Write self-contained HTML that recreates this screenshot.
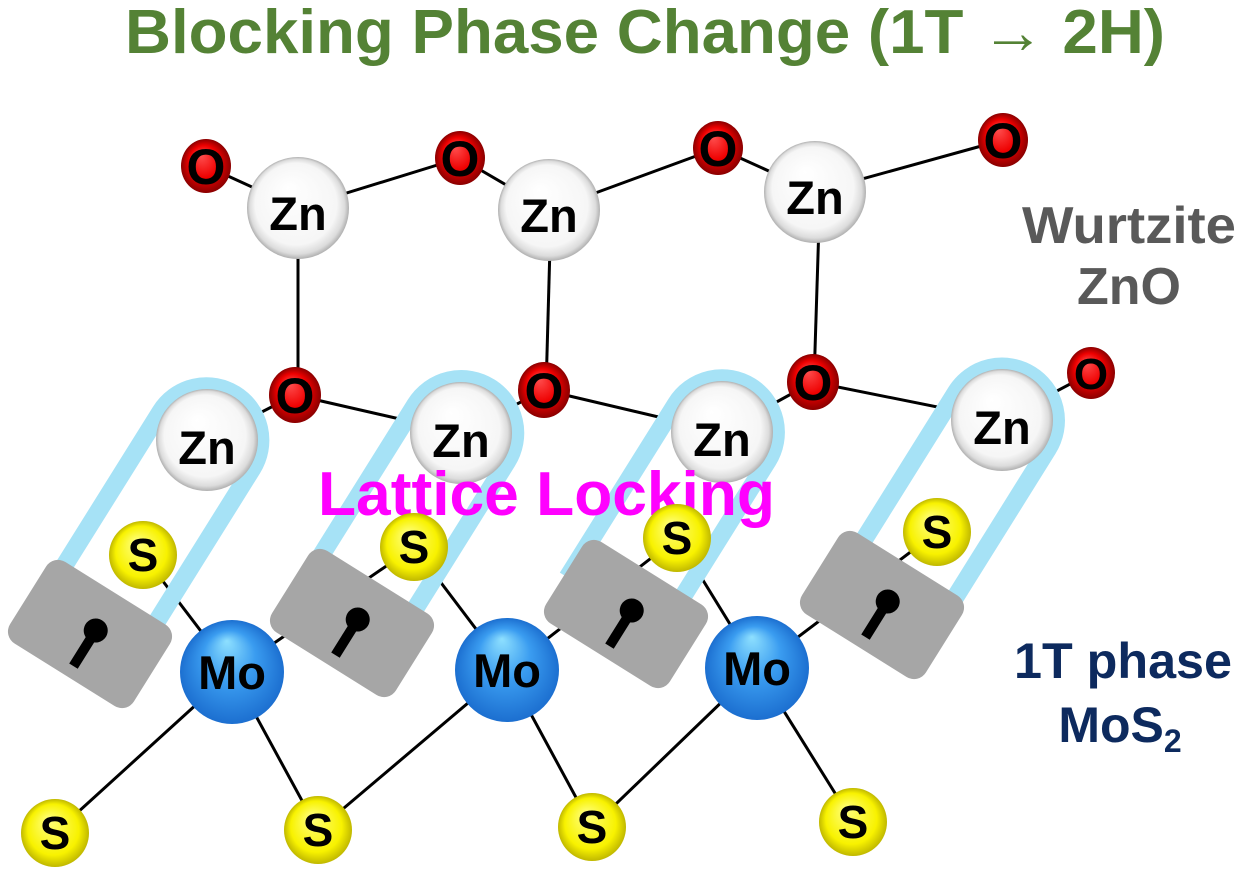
<!DOCTYPE html>
<html><head><meta charset="utf-8"><style>
html,body{margin:0;padding:0;background:#fff;}
svg{display:block;}
text{font-family:"Liberation Sans",sans-serif;font-weight:bold;}
</style></head><body>
<svg width="1239" height="886" viewBox="0 0 1239 886" xmlns="http://www.w3.org/2000/svg">
<defs>
<radialGradient id="gZn" cx="50%" cy="50%" r="50%" fx="40%" fy="30%">
<stop offset="0" stop-color="#ffffff"/><stop offset="0.8" stop-color="#f6f6f6"/><stop offset="0.93" stop-color="#dcdcdc"/><stop offset="1" stop-color="#b0b0b0"/></radialGradient>
<radialGradient id="gO" cx="50%" cy="50%" r="50%" fx="40%" fy="30%">
<stop offset="0" stop-color="#ff5050"/><stop offset="0.6" stop-color="#ee0000"/><stop offset="1" stop-color="#8a0000"/></radialGradient>
<radialGradient id="gS" cx="50%" cy="50%" r="50%" fx="40%" fy="30%">
<stop offset="0" stop-color="#ffff80"/><stop offset="0.75" stop-color="#f8f200"/><stop offset="1" stop-color="#c0b800"/></radialGradient>
<radialGradient id="gMo" cx="50%" cy="50%" r="50%" fx="45%" fy="20%">
<stop offset="0" stop-color="#8ee0ff"/><stop offset="0.5" stop-color="#3a9cf0"/><stop offset="1" stop-color="#1c6fd0"/></radialGradient>
</defs>

<text x="645" y="53" font-size="62" fill="#548235" text-anchor="middle" textLength="1040" lengthAdjust="spacingAndGlyphs">Blocking Phase Change (1T → 2H)</text>

<g stroke="#000" stroke-width="3">
<line x1="206" y1="166" x2="298" y2="208"/><line x1="298" y1="208" x2="460" y2="158"/>
<line x1="460" y1="158" x2="549" y2="210"/><line x1="549" y1="210" x2="718" y2="148"/>
<line x1="718" y1="148" x2="815" y2="192"/><line x1="815" y1="192" x2="1003" y2="140"/>
<line x1="298" y1="208" x2="298" y2="398"/><line x1="551" y1="210" x2="546" y2="390"/><line x1="820" y1="192" x2="814" y2="382"/>
<line x1="207" y1="440" x2="295" y2="395"/><line x1="295" y1="395" x2="461" y2="433"/>
<line x1="461" y1="433" x2="544" y2="390"/><line x1="544" y1="390" x2="722" y2="432"/>
<line x1="722" y1="432" x2="813" y2="382"/><line x1="813" y1="382" x2="1002" y2="420"/>
<line x1="1002" y1="420" x2="1091" y2="373"/>
<line x1="143" y1="555" x2="232" y2="672"/><line x1="232" y1="672" x2="55" y2="833"/><line x1="232" y1="672" x2="318" y2="830"/><line x1="232" y1="672" x2="414" y2="547"/>
<line x1="414" y1="547" x2="507" y2="670"/><line x1="507" y1="670" x2="318" y2="830"/><line x1="507" y1="670" x2="592" y2="827"/><line x1="507" y1="670" x2="677" y2="538"/>
<line x1="677" y1="538" x2="757" y2="668"/><line x1="757" y1="668" x2="592" y2="827"/><line x1="757" y1="668" x2="853" y2="822"/><line x1="757" y1="668" x2="937" y2="532"/>
</g>

<g fill="none" stroke="#a6e2f6" stroke-width="18">
<g transform="translate(90,634) rotate(32)"><path d="M -58 0 L -58 -226 A 54 54 0 0 1 50 -226 L 50 0"/></g>
<g transform="translate(352,623) rotate(32)"><path d="M -62 0 L -62 -219 A 54 54 0 0 1 46 -219 L 46 0"/></g>
<g transform="translate(626,614) rotate(32)"><path d="M -69 0 L -69 -205 A 54 54 0 0 1 39 -205 L 39 0"/></g>
<g transform="translate(882,605) rotate(32)"><path d="M -50 0 L -50 -220 A 54 54 0 0 1 58 -220 L 58 0"/></g>
</g>

<g fill="url(#gO)">
<ellipse cx="206" cy="166" rx="25" ry="27"/><ellipse cx="460" cy="158" rx="25" ry="27"/>
<ellipse cx="718" cy="148" rx="25" ry="27"/><ellipse cx="1003" cy="140" rx="25" ry="27"/>
<ellipse cx="295" cy="395" rx="26" ry="28"/><ellipse cx="544" cy="390" rx="26" ry="28"/>
<ellipse cx="813" cy="382" rx="26" ry="28"/><ellipse cx="1091" cy="373" rx="24" ry="26"/>
</g>
<g font-size="50" fill="#000" text-anchor="middle">
<text x="206" y="184">O</text><text x="460" y="176">O</text><text x="718" y="166">O</text><text x="1003" y="158">O</text>
<text x="295" y="413">O</text><text x="544" y="408">O</text><text x="813" y="400">O</text><text x="1091" y="389" font-size="44">O</text>
</g>

<g fill="url(#gZn)">
<circle cx="298" cy="208" r="51"/><circle cx="549" cy="210" r="51"/><circle cx="815" cy="192" r="51"/>
<circle cx="207" cy="440" r="51"/><circle cx="461" cy="433" r="51"/><circle cx="722" cy="432" r="51"/><circle cx="1002" cy="420" r="51"/>
</g>
<g font-size="47" fill="#000" text-anchor="middle">
<text x="298" y="230">Zn</text><text x="549" y="232">Zn</text><text x="815" y="214">Zn</text>
<text x="207" y="464">Zn</text><text x="461" y="457">Zn</text><text x="722" y="456">Zn</text><text x="1002" y="444">Zn</text>
</g>

<text x="318" y="515" font-size="62" fill="#ff00ff" textLength="457" lengthAdjust="spacingAndGlyphs">Lattice Locking</text>

<g fill="url(#gS)">
<circle cx="143" cy="555" r="34"/><circle cx="414" cy="547" r="34"/><circle cx="677" cy="538" r="34"/><circle cx="937" cy="532" r="34"/>
<circle cx="55" cy="833" r="34"/><circle cx="318" cy="830" r="34"/><circle cx="592" cy="827" r="34"/><circle cx="853" cy="822" r="34"/>
</g>
<g font-size="46" fill="#000" text-anchor="middle">
<text x="143" y="571">S</text><text x="414" y="563">S</text><text x="677" y="554">S</text><text x="937" y="548">S</text>
<text x="55" y="849">S</text><text x="318" y="846">S</text><text x="592" y="843">S</text><text x="853" y="838">S</text>
</g>

<g fill="#a6a6a6">
<g transform="translate(90,634) rotate(32)"><rect x="-73" y="-48" width="146" height="96" rx="14"/><circle cx="3" cy="-6" r="12" fill="#000"/><rect x="-2" y="-6" width="10" height="42" fill="#000"/></g>
<g transform="translate(352,623) rotate(32)"><rect x="-73" y="-48" width="146" height="96" rx="14"/><circle cx="3" cy="-6" r="12" fill="#000"/><rect x="-2" y="-6" width="10" height="42" fill="#000"/></g>
<g transform="translate(626,614) rotate(32)"><rect x="-73" y="-48" width="146" height="96" rx="14"/><circle cx="3" cy="-6" r="12" fill="#000"/><rect x="-2" y="-6" width="10" height="42" fill="#000"/></g>
<g transform="translate(882,605) rotate(32)"><rect x="-73" y="-48" width="146" height="96" rx="14"/><circle cx="3" cy="-6" r="12" fill="#000"/><rect x="-2" y="-6" width="10" height="42" fill="#000"/></g>
</g>

<g fill="url(#gMo)">
<circle cx="232" cy="672" r="52"/><circle cx="507" cy="670" r="52"/><circle cx="757" cy="668" r="52"/>
</g>
<g font-size="47" fill="#000" text-anchor="middle">
<text x="232" y="689">Mo</text><text x="507" y="687">Mo</text><text x="757" y="685">Mo</text>
</g>

<g font-size="52" fill="#595959" text-anchor="middle">
<text x="1129" y="243" textLength="214" lengthAdjust="spacingAndGlyphs">Wurtzite</text>
<text x="1129" y="304">ZnO</text>
</g>
<g font-size="50" fill="#0d2a5e" text-anchor="middle">
<text x="1123" y="678" textLength="218" lengthAdjust="spacingAndGlyphs">1T phase</text>
<text x="1120" y="742">MoS<tspan font-size="32" dy="10">2</tspan></text>
</g>
</svg>
</body></html>
